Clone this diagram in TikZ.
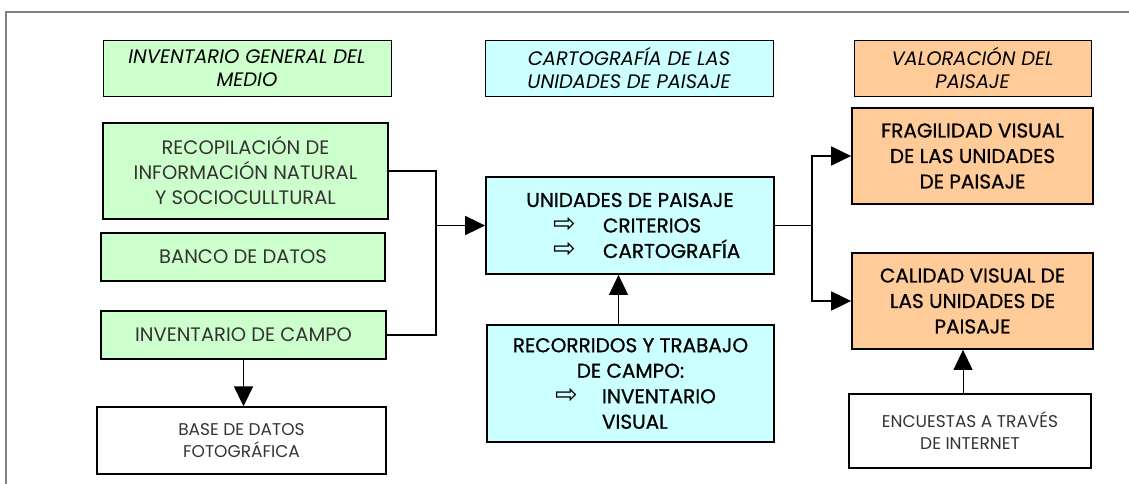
\documentclass[tikz,border=0pt]{standalone}
\usepackage{fontspec}
\setmainfont{Poppins}
\newfontfamily\medfont[FakeBold=0.8]{Poppins}
\newfontfamily\symfont{DejaVu Sans}
\usetikzlibrary{arrows.meta}
\definecolor{vgreen}{RGB}{204,255,204}
\definecolor{vcyan}{RGB}{204,255,255}
\definecolor{vorange}{RGB}{255,204,153}
\newcommand{\flecha}{\smash{\symfont\fontsize{27}{27}\selectfont ⇨}}
\tikzset{
  box/.style={rectangle,draw,line width=1.8pt,inner sep=0pt,align=center},
  headbox/.style={box,line width=0.9pt,minimum height=56pt,font=\fontsize{19.5}{23}\selectfont\itshape},
  greenbox/.style={box,fill=vgreen,text=black!80,font=\fontsize{19.5}{25}\selectfont},
  whitebox/.style={box,line width=1.4pt,fill=white,text=black!80,font=\fontsize{17}{22}\selectfont},
  bluebox/.style={box,fill=vcyan,font=\fontsize{20}{25.5}\selectfont\medfont},
  orangebox/.style={box,fill=vorange,font=\fontsize{20}{25.5}\selectfont\medfont},
  flow/.style={line width=1.8pt,-{Triangle[length=20pt,width=19pt]}}
}

\begin{document}
\begin{tikzpicture}[x=1pt,y=-1pt]

          \useasboundingbox (0,0) rectangle (1129,484);
          \draw[gray,line width=1.5pt] (6,484) -- (6,12) -- (1129,12);

          \node[headbox,fill=vgreen,minimum width=288pt] (h1) at (247,68){INVENTARIO GENERAL DEL\\MEDIO};
          \node[headbox,fill=vcyan,minimum width=288pt] (h2) at (629,68){CARTOGRAFÍA DE LAS\\UNIDADES DE PAISAJE};
          \node[headbox,fill=vorange,minimum width=237pt] (h3) at (972.5,68){VALORACIÓN DEL\\PAISAJE};

          \node[greenbox,minimum width=285pt,minimum height=96pt] (g1) at (245.5,171){RECOPILACIÓN DE\\INFORMACIÓN NATURAL\\Y SOCIOCULLTURAL};
          \node[greenbox,minimum width=284pt,minimum height=48pt] (g2) at (243,257){BANCO DE DATOS};
          \node[greenbox,minimum width=285pt,minimum height=48pt] (g3) at (243.5,335){INVENTARIO DE CAMPO};
          \node[whitebox,minimum width=289pt,minimum height=67pt] (w1) at (241.5,440.5){BASE DE DATOS\\FOTOGRÁFICA};

          \node[bluebox,minimum width=288pt,minimum height=97pt] (c1) at (630,225.5){UNIDADES DE PAISAJE\\
            \makebox[288pt][l]{\hspace{67pt}\makebox[50pt][l]{\flecha}CRITERIOS}\\
            \makebox[288pt][l]{\hspace{67pt}\makebox[50pt][l]{\flecha}CARTOGRAFÍA}};
          \node[bluebox,minimum width=287pt,minimum height=117pt] (c2) at (630.5,383.5){RECORRIDOS Y TRABAJO\\DE CAMPO:\\
            \makebox[287pt][l]{\hspace{68pt}\makebox[47pt][l]{\flecha}INVENTARIO}\\
            \makebox[287pt][l]{\hspace{115pt}VISUAL}};

          \node[orangebox,minimum width=241pt,minimum height=96pt] (o1) at (972.5,156){FRAGILIDAD VISUAL\\DE LAS UNIDADES\\DE PAISAJE};
          \node[orangebox,minimum width=241pt,minimum height=96pt] (o2) at (972.5,301){CALIDAD VISUAL DE\\LAS UNIDADES DE\\PAISAJE};
          \node[whitebox,minimum width=242pt,minimum height=74pt] (w2) at (970,431){ENCUESTAS A TRAVÉS\\DE INTERNET};

          \coordinate (jl) at (436,225.5);
          \coordinate (jr) at (812,225.5);

          \draw[line width=1.8pt](g1.east) -| (jl) |- (g3.east);
          \draw[flow](jl)--(c1.west);
          \draw[line width=1.8pt](c1.east)--(jr);
          \draw[flow](jr) |- (o1.west);
          \draw[flow](jr) |- (o2.west);
          \draw[flow](g3.south)--(g3.south |- w1.north);
          \draw[flow,line width=1pt]([xshift=-12pt]c2.north)--([xshift=-12pt]c2.north |- c1.south);
          \draw[flow,line width=1pt]([xshift=-7pt]w2.north)--([xshift=-7pt]w2.north |- o2.south);

        \end{tikzpicture}
\end{document}
